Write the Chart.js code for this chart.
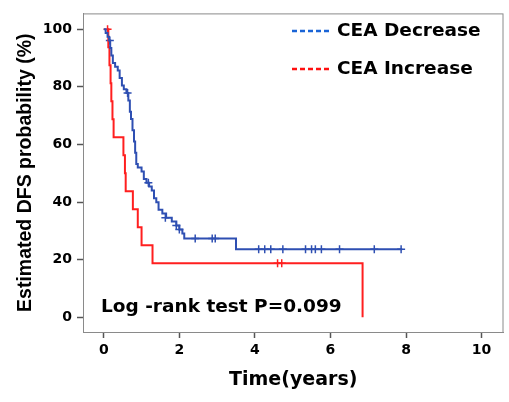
<!DOCTYPE html>
<html>
<head>
<meta charset="utf-8">
<script src="https://cdn.jsdelivr.net/npm/chart.js@4/dist/chart.umd.min.js"></script>
<style>
  body { margin: 0; background: #fff; }
  #wrap { width: 509px; height: 402px; }
</style>
</head>
<body>
<div id="wrap"><canvas id="km" width="509" height="402"></canvas></div>
<script>
// tick labels
const xTicks = [0, 2, 4, 6, 8, 10];
const yTicks = [0, 20, 40, 60, 80, 100];

// CEA Decrease (blue) - KM steps
const decTime = [0.00, 0.05, 0.10, 0.14, 0.17, 0.20, 0.24, 0.30, 0.37, 0.42, 0.48, 0.53, 0.60, 0.65, 0.69,
                 0.72, 0.76, 0.80, 0.83, 0.86, 0.90, 1.00, 1.06, 1.13, 1.20, 1.27, 1.33, 1.39, 1.45, 1.55,
                 1.65, 1.80, 1.92, 2.00, 2.08, 2.13, 3.50, 7.90];
const decSurv = [100, 98.7, 97.4, 96.1, 93.5, 90.9, 88.3, 87.0, 85.7, 83.1, 80.5, 79.2, 77.9, 75.3, 71.4,
                 68.8, 64.9, 61.0, 57.1, 53.2, 52.0, 50.6, 48.0, 46.7, 45.4, 44.0, 41.3, 39.9, 37.3, 36.0,
                 34.6, 33.3, 31.9, 30.5, 29.1, 27.4, 23.6, 23.6];
const decCensTime = [0.16, 0.63, 1.18, 1.63, 1.92, 2.00, 2.42, 2.87, 2.95, 4.10, 4.26, 4.42, 4.74, 5.34, 5.50, 5.60, 5.76, 6.24, 7.16, 7.87];
const decCensSurv = [96.1, 77.9, 46.7, 34.6, 31.9, 30.5, 27.4, 27.4, 27.4, 23.6, 23.6, 23.6, 23.6, 23.6, 23.6, 23.6, 23.6, 23.6, 23.6, 23.6];

// CEA Increase (red)
const incTime = [0.10, 0.12, 0.15, 0.18, 0.20, 0.23, 0.26, 0.52, 0.56, 0.58, 0.77, 0.90, 1.00, 1.29, 6.85];
const incSurv = [100, 93.75, 87.5, 81.25, 75, 68.75, 62.5, 56.25, 50, 43.75, 37.5, 31.25, 25, 18.75, 0];
const incCensTime = [0.10, 4.60, 4.71];
const incCensSurv = [100, 18.75, 18.75];

const blue = '#2e4fb2';
const red = '#ff1f1f';

const pts = (xs, ys) => xs.map((x, i) => ({ x: x, y: ys[i] }));

const boxPlugin = {
  id: 'box',
  afterDraw(chart) {
    const { ctx, chartArea: a } = chart;
    ctx.save();
    ctx.strokeStyle = '#8a8a8a';
    ctx.lineWidth = 1;
    ctx.strokeRect(a.left + 0.5, a.top + 0.5, a.right - a.left - 1, a.bottom - a.top);

    // legend
    const items = [['CEA Decrease', '#1a64d6', 31], ['CEA Increase', '#ff1010', 69]];
    items.forEach(([txt, col, y]) => {
      ctx.strokeStyle = col;
      ctx.lineWidth = 2.5;
      ctx.setLineDash([5, 3]);
      ctx.beginPath();
      ctx.moveTo(292, y);
      ctx.lineTo(331, y);
      ctx.stroke();
      ctx.setLineDash([]);
      ctx.fillStyle = '#000';
      ctx.font = 'bold 18.5px "DejaVu Sans"';
      ctx.textBaseline = 'middle';
      ctx.fillText(txt, 337, y);
    });

    ctx.font = 'bold 18.5px "DejaVu Sans"';
    ctx.textBaseline = 'alphabetic';
    ctx.fillStyle = '#000';
    ctx.fillText('Log -rank test P=0.099', 101, 312);
    ctx.restore();
  }
};

new Chart(document.getElementById('km'), {
  type: 'line',
  data: {
    datasets: [
      { data: pts(decTime, decSurv), borderColor: blue, borderWidth: 2, stepped: true, pointRadius: 0, fill: false },
      { data: pts(incTime, incSurv), borderColor: red, borderWidth: 2, stepped: true, pointRadius: 0, fill: false },
      { type: 'scatter', data: pts(decCensTime, decCensSurv), pointStyle: 'cross', pointRadius: 4, borderColor: blue, borderWidth: 1.5 },
      { type: 'scatter', data: pts(incCensTime, incCensSurv), pointStyle: 'cross', pointRadius: 4, borderColor: red, borderWidth: 1.5 }
    ]
  },
  options: {
    responsive: false,
    devicePixelRatio: 1,
    animation: false,
    layout: { padding: { top: 9, right: 4, left: 0, bottom: 0 } },
    plugins: { legend: { display: false }, tooltip: { enabled: false } },
    scales: {
      x: {
        type: 'linear',
        min: -0.55, max: 10.58,
        afterBuildTicks: s => { s.ticks = xTicks.map(v => ({ value: v })); },
        afterFit: s => { s.height = 70; },
        grid: { drawOnChartArea: false, tickLength: 6, tickColor: '#555', tickWidth: 1.5 },
        border: { color: '#8a8a8a' },
        ticks: { color: '#000', font: { family: 'DejaVu Sans', weight: 'bold', size: 14 }, padding: 4, maxRotation: 0 },
        title: { display: true, text: 'Time(years)', color: '#000', font: { family: 'DejaVu Sans', weight: 'bold', size: 19 }, padding: { bottom: 11 } }
      },
      y: {
        type: 'linear',
        min: -5.1, max: 105.5,
        afterBuildTicks: s => { s.ticks = yTicks.map(v => ({ value: v })); },
        afterFit: s => { s.width = 83; },
        grid: { drawOnChartArea: false, tickLength: 6, tickColor: '#555', tickWidth: 1.5 },
        border: { color: '#8a8a8a' },
        ticks: { color: '#000', font: { family: 'DejaVu Sans', weight: 'bold', size: 14 }, padding: 5 },
        title: { display: true, text: 'Estimated DFS probability (%)', color: '#000', font: { family: 'Liberation Sans', weight: 'bold', size: 19.5 }, padding: { top: 14 } }
      }
    }
  },
  plugins: [boxPlugin]
});
</script>
</body>
</html>
